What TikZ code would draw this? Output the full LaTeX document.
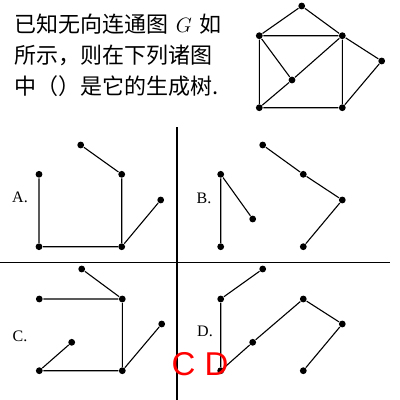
\documentclass[tikz,border=0pt]{standalone}
\usepackage{fontspec}
\setmainfont{Liberation Serif}
\newfontfamily\cjk{Noto Sans CJK SC}
\newfontfamily\redsans{Liberation Sans}
\begin{document}
\begin{tikzpicture}[x=1pt,y=-1pt,line width=1.1pt,
  dot/.style={circle,fill=black,inner sep=0pt,minimum size=6.8pt},
  qtext/.style={anchor=west,inner sep=0pt,font=\cjk\fontsize{22}{22}\selectfont},
  lbl/.style={inner sep=0pt,font=\fontsize{16}{16}\selectfont},
  divider/.style={line width=1.1pt}]
\useasboundingbox (0,0) rectangle (400,400);
\fill[white] (0,0) rectangle (400,400);
% question text
\node[qtext] (q1) at (14,24) {已知无向连通图\,\,$G$\,\,如};
\node[qtext] (q2) at (14,55) {所示，则在下列诸图};
\node[qtext] (q3) at (14,86) {中（）是它的生成树.};
% graph G
\node[dot] (gt) at (301.7,6) {};
\node[dot] (glt) at (259.3,35.7) {};
\node[dot] (grt) at (342.3,35.7) {};
\node[dot] (gfr) at (381.7,61) {};
\node[dot] (gm) at (292,80) {};
\node[dot] (gbl) at (259.3,107.7) {};
\node[dot] (gbr) at (342.3,107.7) {};
\draw (gt)--(glt) (gt)--(grt) (glt)--(grt) (glt)--(gbl) (glt)--(gm) (grt)--(gm)
      (gm)--(gbl) (grt)--(gbr) (grt)--(gfr) (gfr)--(gbr) (gbl)--(gbr);
% dividers
\coordinate (vtop) at (177,127);
\coordinate (vbot) at (177,400);
\coordinate (hl) at (0,262.5);
\coordinate (hr) at (390,262.5);
\draw[divider] (vtop)--(vbot);
\draw[divider] (hl)--(hr);
% panel A
\node[lbl] (la) at (20,197) {A.};
\node[dot] (a1) at (80.7,145) {};
\node[dot] (a2) at (121.7,174.3) {};
\node[dot] (a3) at (39,174.3) {};
\node[dot] (a4) at (160.7,200) {};
\node[dot] (a5) at (39,246.7) {};
\node[dot] (a6) at (121.7,246.7) {};
\draw (a1)--(a2) (a3)--(a5) (a5)--(a6) (a2)--(a6) (a6)--(a4);
% panel B
\node[lbl] (lb) at (204,198) {B.};
\node[dot] (b1) at (220.7,174.3) {};
\node[dot] (b2) at (252.7,219) {};
\node[dot] (b3) at (220.7,246.7) {};
\node[dot] (b4) at (262.7,145) {};
\node[dot] (b5) at (303.3,174.3) {};
\node[dot] (b6) at (342.3,200) {};
\node[dot] (b7) at (303.3,246.7) {};
\draw (b1)--(b3) (b1)--(b2) (b4)--(b5) (b5)--(b6) (b6)--(b7);
% panel C
\node[lbl] (lc) at (20,336) {C.};
\node[dot] (c1) at (81.7,269) {};
\node[dot] (c2) at (39.3,299) {};
\node[dot] (c3) at (122.3,299) {};
\node[dot] (c4) at (161.7,324) {};
\node[dot] (c5) at (71.7,342.3) {};
\node[dot] (c6) at (39.3,370.7) {};
\node[dot] (c7) at (122.3,370.7) {};
\draw (c1)--(c3) (c2)--(c3) (c3)--(c7) (c6)--(c7) (c6)--(c5) (c7)--(c4);
% panel D
\node[lbl] (ld) at (205,331) {D.};
\node[dot] (d1) at (262.7,269) {};
\node[dot] (d2) at (220.7,299) {};
\node[dot] (d3) at (303.3,299) {};
\node[dot] (d4) at (342.3,324) {};
\node[dot] (d5) at (252.7,342.3) {};
\node[dot] (d6) at (220.7,370.7) {};
\node[dot] (d7) at (303.3,370.7) {};
\draw (d1)--(d2) (d2)--(d6) (d6)--(d5) (d5)--(d3) (d3)--(d4) (d4)--(d7);
% answer
\node[inner sep=0pt,text=red,font=\redsans\fontsize{33}{33}\selectfont] (ans) at (200,364) {C D};
\end{tikzpicture}
\end{document}
